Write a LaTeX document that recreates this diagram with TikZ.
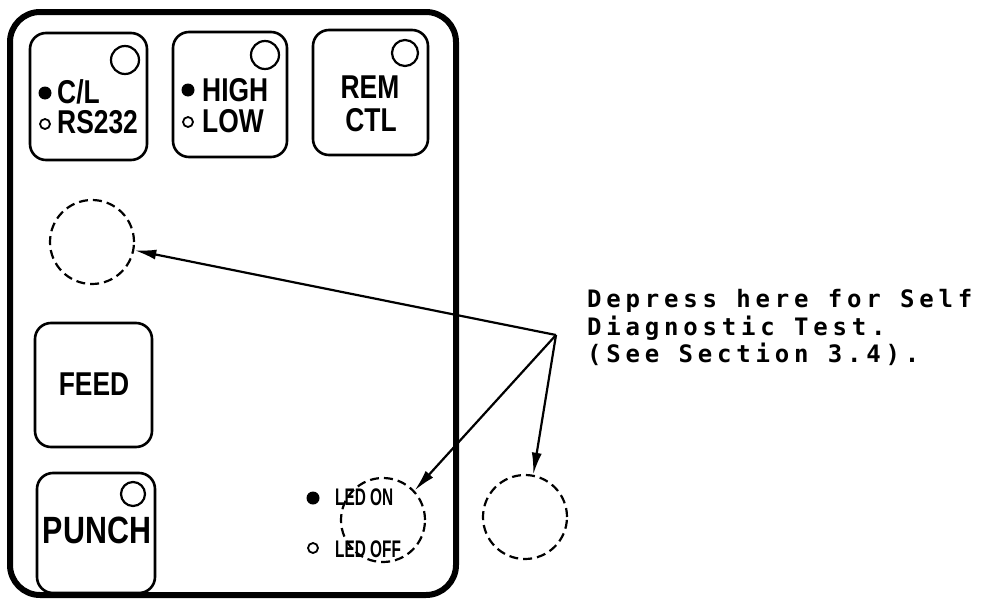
\documentclass[tikz,border=0pt]{standalone}
\usepackage{fontspec}
\usetikzlibrary{arrows.meta}
\newfontfamily\condfont[FakeStretch=0.8]{Liberation Sans}
\newfontfamily\ledfont[FakeStretch=0.64]{Liberation Sans}
\newfontfamily\typefont[LetterSpace=20,BoldFont={DejaVu Sans Mono Bold}]{DejaVu Sans Mono}
\tikzset{
  panelbox/.style={draw, line width=6pt, rounded corners=30pt, inner sep=0pt},
  btn/.style={draw, line width=2.6pt, rounded corners=16pt, inner sep=0pt},
  lamp/.style={draw, circle, line width=2.2pt, inner sep=0pt},
  dot/.style={circle, fill=black, inner sep=0pt, minimum size=13pt},
  odot/.style={circle, draw, line width=1.8pt, inner sep=0pt, minimum size=10pt},
  dashcirc/.style={draw, circle, line width=2.2pt, dash pattern=on 9pt off 5pt, inner sep=0pt, minimum size=84pt},
  lbl/.style={font=\condfont\bfseries\fontsize{33}{35}\selectfont, inner sep=0pt},
  ledlbl/.style={font=\ledfont\bfseries\fontsize{24}{26}\selectfont, inner sep=0pt, anchor=base west},
  note/.style={font=\typefont\bfseries\fontsize{24}{26}\selectfont, inner sep=0pt, anchor=base west},
  ptr/.style={line width=2.2pt, -{Latex[length=22pt,width=10pt]}}
}
\begin{document}
\begin{tikzpicture}[x=1pt,y=-1pt]
\useasboundingbox (0,0) rectangle (985,605);
% outer panel
\node[panelbox, minimum width=446pt, minimum height=583pt] (panel) at (233,303.5) {};
% top buttons
\node[btn, minimum width=117pt, minimum height=127pt] (bcl) at (88.5,96.5) {};
\node[btn, minimum width=114pt, minimum height=125pt] (bhi) at (230,94.5) {};
\node[btn, minimum width=115pt, minimum height=125pt] (brem) at (370.5,92.5) {};
\node[lamp, minimum size=28pt] (lcl) at (125,60) {};
\node[lamp, minimum size=28pt] (lhi) at (265,55) {};
\node[lamp, minimum size=26pt] (lrem) at (405,53) {};
% labels of top buttons
\node[dot] (dcl) at (45,93) {};
\node[odot] (ors) at (45,124) {};
\node[lbl, anchor=base west] (tcl) at (57,103) {C/L};
\node[lbl, anchor=base west] (trs) at (57,133) {RS232};
\node[dot] (dhi) at (188,90) {};
\node[odot] (olo) at (188,122) {};
\node[lbl, anchor=base west] (thi) at (202,101) {HIGH};
\node[lbl, anchor=base west] (tlo) at (202,132) {LOW};
\node[lbl, anchor=base] (trem) at (370,98) {REM};
\node[lbl, anchor=base] (tctl) at (371,131) {CTL};
% lower buttons
\node[btn, minimum width=117pt, minimum height=124pt] (bfeed) at (93.5,385) {};
\node[btn, minimum width=118pt, minimum height=120pt] (bpunch) at (96,533) {};
\node[lamp, minimum size=24pt] (lpunch) at (133,494) {};
\node[lbl, anchor=base] (tfeed) at (94,395) {FEED};
\node[lbl, anchor=base, font=\condfont\bfseries\fontsize{38}{40}\selectfont] (tpunch) at (97,543) {PUNCH};
% LED indicators
\node[dot] (don) at (313,498) {};
\node[odot] (doff) at (313,548) {};
\node[ledlbl] (ton) at (335,505) {LED ON};
\node[ledlbl] (toff) at (335,557) {LED OFF};
% dashed target circles
\node[dashcirc] (c1) at (92,242) {};
\node[dashcirc] (c2) at (383,520) {};
\node[dashcirc] (c3) at (525,517) {};
% note
\node[note] (n1) at (587,307) {Depress here for Self};
\node[note] (n2) at (587,335) {Diagnostic Test.};
\node[note] (n3) at (587,362) {(See Section 3.4).};
% pointers
\coordinate (src) at (556,335);
\draw[ptr] (src) -- (c1.-11);
\draw[ptr] (src) -- (c2.43);
\draw[ptr] (src) -- (c3.79);
\end{tikzpicture}
\end{document}
